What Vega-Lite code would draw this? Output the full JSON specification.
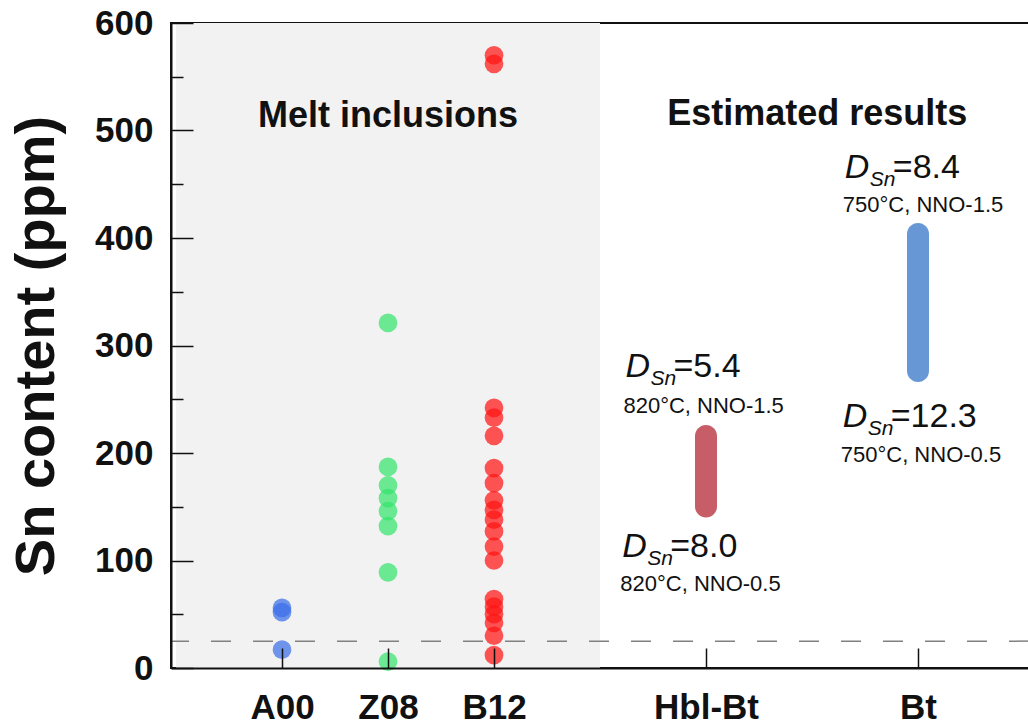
{
  "$schema": "https://vega.github.io/schema/vega-lite/v6.json",
  "autosize": {"type": "none"},
  "width": 858,
  "height": 645,
  "padding": {"left": 171, "top": 23, "right": 0, "bottom": 60},
  "background": "white",
  "config": {
    "view": {"stroke": "#111", "strokeWidth": 2},
    "font": "Liberation Sans"
  },
  "datasets": {
    "inclusions": [
      {"sample": "A00", "slot": 1, "sn": 17},
      {"sample": "A00", "slot": 1, "sn": 52},
      {"sample": "A00", "slot": 1, "sn": 56},
      {"sample": "Z08", "slot": 2, "sn": 6},
      {"sample": "Z08", "slot": 2, "sn": 89},
      {"sample": "Z08", "slot": 2, "sn": 132},
      {"sample": "Z08", "slot": 2, "sn": 146},
      {"sample": "Z08", "slot": 2, "sn": 158},
      {"sample": "Z08", "slot": 2, "sn": 170},
      {"sample": "Z08", "slot": 2, "sn": 187},
      {"sample": "Z08", "slot": 2, "sn": 321},
      {"sample": "B12", "slot": 3, "sn": 12},
      {"sample": "B12", "slot": 3, "sn": 30},
      {"sample": "B12", "slot": 3, "sn": 42},
      {"sample": "B12", "slot": 3, "sn": 50},
      {"sample": "B12", "slot": 3, "sn": 57},
      {"sample": "B12", "slot": 3, "sn": 64},
      {"sample": "B12", "slot": 3, "sn": 100},
      {"sample": "B12", "slot": 3, "sn": 113},
      {"sample": "B12", "slot": 3, "sn": 127},
      {"sample": "B12", "slot": 3, "sn": 138},
      {"sample": "B12", "slot": 3, "sn": 147},
      {"sample": "B12", "slot": 3, "sn": 156},
      {"sample": "B12", "slot": 3, "sn": 172},
      {"sample": "B12", "slot": 3, "sn": 186},
      {"sample": "B12", "slot": 3, "sn": 216},
      {"sample": "B12", "slot": 3, "sn": 233},
      {"sample": "B12", "slot": 3, "sn": 242},
      {"sample": "B12", "slot": 3, "sn": 562},
      {"sample": "B12", "slot": 3, "sn": 570}
    ],
    "estimates": [
      {"mineral": "Hbl-Bt", "slot": 5, "low": 140, "high": 226},
      {"mineral": "Bt", "slot": 7, "low": 266, "high": 414}
    ],
    "partition": [
      {"slot": 4.24, "y": 271, "value": "=5.4", "cond": "820°C, NNO-1.5", "condY": 237},
      {"slot": 4.21, "y": 103, "value": "=8.0", "cond": "820°C, NNO-0.5", "condY": 72},
      {"slot": 6.31, "y": 456, "value": "=8.4", "cond": "750°C, NNO-1.5", "condY": 424},
      {"slot": 6.29, "y": 224, "value": "=12.3", "cond": "750°C, NNO-0.5", "condY": 192}
    ],
    "panels": [
      {"slot": 2.0, "y": 503, "label": "Melt inclusions"},
      {"slot": 6.05, "y": 505, "label": "Estimated results"}
    ]
  },
  "resolve": {"scale": {"color": "independent"}},
  "encoding": {
    "x": {
      "type": "quantitative",
      "scale": {"domain": [0, 8], "nice": false, "zero": false}
    },
    "y": {
      "type": "quantitative",
      "scale": {"domain": [0, 600], "nice": false}
    }
  },
  "layer": [
    {
      "data": {"values": [{"from": 0, "to": 4}]},
      "mark": {"type": "rect", "color": "#f2f2f2"},
      "encoding": {
        "x": {"field": "from", "type": "quantitative"},
        "x2": {"field": "to"},
        "y": {"datum": 0, "type": "quantitative"},
        "y2": {"datum": 600}
      }
    },
    {
      "data": {"values": [{"limit": 25}]},
      "mark": {"type": "rule", "color": "#808080", "strokeWidth": 1.5, "strokeDash": [20, 22]},
      "encoding": {
        "y": {"field": "limit", "type": "quantitative"}
      }
    },
    {
      "data": {"name": "inclusions"},
      "mark": {"type": "circle", "size": 350, "opacity": 0.72},
      "encoding": {
        "x": {
          "field": "slot",
          "type": "quantitative",
          "axis": {
            "values": [1, 2, 3, 5, 7],
            "labelExpr": "datum.value == 1 ? 'A00' : datum.value == 2 ? 'Z08' : datum.value == 3 ? 'B12' : datum.value == 5 ? 'Hbl-Bt' : 'Bt'",
            "title": null,
            "grid": false,
            "zindex": 1,
            "domain": true,
            "domainColor": "#111",
            "domainWidth": 2,
            "tickColor": "#111",
            "tickWidth": 1.5,
            "tickSize": -20,
            "labelFont": "Liberation Sans",
            "labelFontSize": 35,
            "labelFontWeight": "bold",
            "labelColor": "#111",
            "labelPadding": 42,
            "labelFlush": false,
            "labelOverlap": false
          }
        },
        "y": {
          "field": "sn",
          "type": "quantitative",
          "axis": {
            "values": [0, 50, 100, 150, 200, 250, 300, 350, 400, 450, 500, 550, 600],
            "labelExpr": "datum.value % 100 === 0 ? datum.label : ''",
            "title": "Sn content (ppm)",
            "titleFont": "Liberation Sans",
            "titleFontSize": 56,
            "titleFontWeight": "bold",
            "titleColor": "#111",
            "titlePadding": 29,
            "grid": false,
            "zindex": 1,
            "domainColor": "#111",
            "domainWidth": 2,
            "tickColor": "#111",
            "tickWidth": 1.5,
            "tickSize": {"condition": {"test": "datum.value % 100 === 0", "value": -22}, "value": -12},
            "labelFont": "Liberation Sans",
            "labelFontSize": 35,
            "labelFontWeight": "bold",
            "labelColor": "#111",
            "labelPadding": 40,
            "labelFlush": false,
            "labelOverlap": false
          }
        },
        "color": {
          "field": "sample",
          "type": "nominal",
          "scale": {"domain": ["A00", "Z08", "B12"], "range": ["#3a6ee8", "#35e36c", "#ff1414"]},
          "legend": null
        }
      }
    },
    {
      "data": {"name": "estimates"},
      "mark": {"type": "bar", "width": 22, "cornerRadius": 11, "opacity": 0.92},
      "encoding": {
        "x": {"field": "slot", "type": "quantitative"},
        "y": {"field": "low", "type": "quantitative"},
        "y2": {"field": "high"},
        "color": {
          "field": "mineral",
          "type": "nominal",
          "scale": {"domain": ["Hbl-Bt", "Bt"], "range": ["#c2505a", "#5a8ed0"]},
          "legend": null
        }
      }
    },
    {
      "data": {"name": "partition"},
      "mark": {"type": "text", "text": "D", "font": "Liberation Sans", "fontSize": 34, "fontStyle": "italic", "align": "left", "baseline": "alphabetic", "color": "#111"},
      "encoding": {
        "x": {"field": "slot", "type": "quantitative"},
        "y": {"field": "y", "type": "quantitative"}
      }
    },
    {
      "data": {"name": "partition"},
      "mark": {"type": "text", "text": "Sn", "font": "Liberation Sans", "fontSize": 21, "fontStyle": "italic", "align": "left", "baseline": "alphabetic", "dx": 25, "dy": 8, "color": "#111"},
      "encoding": {
        "x": {"field": "slot", "type": "quantitative"},
        "y": {"field": "y", "type": "quantitative"}
      }
    },
    {
      "data": {"name": "partition"},
      "mark": {"type": "text", "font": "Liberation Sans", "fontSize": 34, "align": "left", "baseline": "alphabetic", "dx": 48, "color": "#111"},
      "encoding": {
        "x": {"field": "slot", "type": "quantitative"},
        "y": {"field": "y", "type": "quantitative"},
        "text": {"field": "value"}
      }
    },
    {
      "data": {"name": "partition"},
      "mark": {"type": "text", "font": "Liberation Sans", "fontSize": 22, "align": "left", "baseline": "alphabetic", "dx": -2, "color": "#111"},
      "encoding": {
        "x": {"field": "slot", "type": "quantitative"},
        "y": {"field": "condY", "type": "quantitative"},
        "text": {"field": "cond"}
      }
    },
    {
      "data": {"name": "panels"},
      "mark": {"type": "text", "font": "Liberation Sans", "fontSize": 36, "fontWeight": "bold", "align": "center", "baseline": "alphabetic", "color": "#111"},
      "encoding": {
        "x": {"field": "slot", "type": "quantitative"},
        "y": {"field": "y", "type": "quantitative"},
        "text": {"field": "label"}
      }
    }
  ]
}
